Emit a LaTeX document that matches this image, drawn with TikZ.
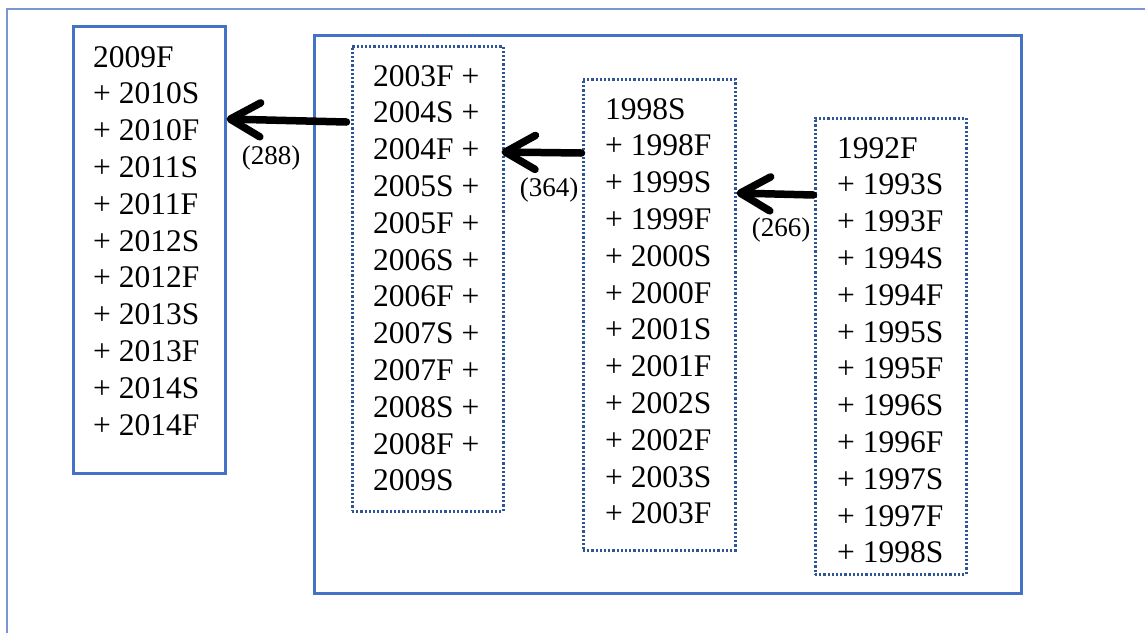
\documentclass[tikz,border=0pt]{standalone}
\usepackage{fontspec}
\setmainfont{Liberation Serif}
\usetikzlibrary{arrows.meta,fit}
\definecolor{frameblue}{RGB}{68,114,196}
\definecolor{dotblue}{RGB}{47,85,151}
\definecolor{pageblue}{RGB}{120,150,210}

\begin{document}
\begin{tikzpicture}[x=1pt,y=-1pt,
  solidbox/.style={draw=frameblue,line width=3pt,inner sep=0pt},
  dotbox/.style={draw=dotblue,line width=3pt,dash pattern=on 2.2pt off 2pt,inner sep=0pt},
  entry/.style={anchor=base west,inner sep=0pt,font=\fontsize{31.5}{36}\selectfont},
  tally/.style={inner sep=0pt,font=\fontsize{27}{30}\selectfont},
  linkarrow/.style={line width=7.5pt,line cap=round,
    -{Straight Barb[length=30pt,width=34pt,line cap=round,line join=round]}}
]
\useasboundingbox[fill=white] (0,0) rectangle (1145,633);

% page frame
\draw[pageblue,line width=1.8pt] (7,633) -- (7,9) -- (1145,9);

% group frames
\node[solidbox,fit={(73,26) (225,473)}] (A) {};
\node[solidbox,fit={(314,35) (1021,593)}] (E) {};
\node[dotbox,fit={(352,46) (503,511)}] (B) {};
\node[dotbox,fit={(583,79) (735,550)}] (C) {};
\node[dotbox,fit={(815,118) (966,574)}] (D) {};

% semester lists
\foreach \t [count=\i] in {2009F,+ 2010S,+ 2010F,+ 2011S,+ 2011F,+ 2012S,+ 2012F,+ 2013S,+ 2013F,+ 2014S,+ 2014F}
  \node[entry] (A\i) at (93,{67+36.8*(\i-1)}) {\t};
\foreach \t [count=\i] in {2003F +,2004S +,2004F +,2005S +,2005F +,2006S +,2006F +,2007S +,2007F +,2008S +,2008F +,2009S}
  \node[entry] (B\i) at (373,{86+36.8*(\i-1)}) {\t};
\foreach \t [count=\i] in {1998S,+ 1998F,+ 1999S,+ 1999F,+ 2000S,+ 2000F,+ 2001S,+ 2001F,+ 2002S,+ 2002F,+ 2003S,+ 2003F}
  \node[entry] (C\i) at (605,{119+36.8*(\i-1)}) {\t};
\foreach \t [count=\i] in {1992F,+ 1993S,+ 1993F,+ 1994S,+ 1994F,+ 1995S,+ 1995F,+ 1996S,+ 1996F,+ 1997S,+ 1997F,+ 1998S}
  \node[entry] (D\i) at (837,{158+36.8*(\i-1)}) {\t};

% transitions
\draw[linkarrow] ([xshift=-4pt]B.west |- 0,122) -- (A.east |- 0,119);
\draw[linkarrow] (C.west |- 0,153) -- ([xshift=-3pt]B.east |- 0,152);
\draw[linkarrow] (D.west |- 0,195) -- (C.east |- 0,193);

\node[tally] (n288) at (271,158) {(288)};
\node[tally] (n364) at (549,190) {(364)};
\node[tally] (n266) at (781,230) {(266)};
\end{tikzpicture}
\end{document}
